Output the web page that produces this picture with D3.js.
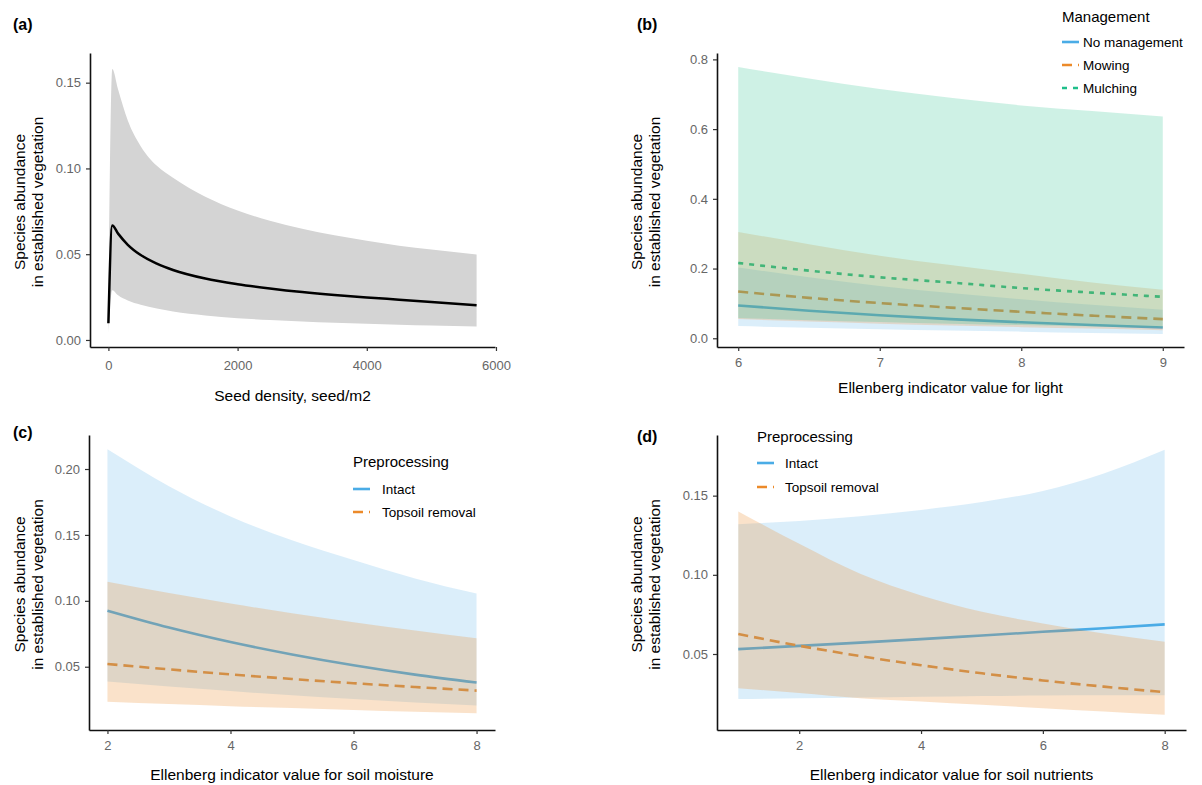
<!DOCTYPE html>
<html>
<head>
<meta charset="utf-8">
<script src="https://cdn.jsdelivr.net/npm/d3@7"></script>
<style>
  body { margin: 0; background: #fff; }
  svg { font-family: "Liberation Sans", Arial, sans-serif; }
  .tick text { fill: #666; font-size: 13px; }
  .tick line { stroke: #333; stroke-width: 1.2; }
  .domain { stroke: #111; stroke-width: 1.6; }
</style>
</head>
<body>
<svg width="1202" height="785"></svg>
<script>

// ---- (a) seed density ----
var seedX    = [0, 60, 150, 300, 500, 750, 1000, 1500, 2000, 2500, 3000, 3500, 4000, 4500, 5000, 5700];
var seedFit  = [0.0097, 0.0668, 0.062, 0.0555, 0.0495, 0.0445, 0.0408, 0.0358, 0.0325, 0.030, 0.0279, 0.0262, 0.0248, 0.0235, 0.0222, 0.0203];
var seedLo   = [0.004, 0.029, 0.026, 0.023, 0.0205, 0.0183, 0.0166, 0.0143, 0.0127, 0.0116, 0.0107, 0.010, 0.0094, 0.0089, 0.0084, 0.0078];
var seedHi   = [0.016, 0.158, 0.146, 0.128, 0.113, 0.1015, 0.0945, 0.0835, 0.0755, 0.0695, 0.0648, 0.061, 0.0578, 0.055, 0.0527, 0.0498];

// ---- (b) light, by management ----
var lightX     = [6, 6.5, 7, 7.5, 8, 8.5, 9];
var noMgmtFit  = [0.094, 0.079, 0.066, 0.055, 0.046, 0.038, 0.031];
var noMgmtLo   = [0.035, 0.030, 0.026, 0.022, 0.019, 0.015, 0.012];
var noMgmtHi   = [0.203, 0.175, 0.150, 0.130, 0.112, 0.096, 0.082];
var mowFit     = [0.134, 0.116, 0.101, 0.088, 0.076, 0.065, 0.055];
var mowLo      = [0.055, 0.048, 0.042, 0.037, 0.032, 0.028, 0.023];
var mowHi      = [0.305, 0.270, 0.237, 0.210, 0.185, 0.160, 0.139];
var mulchFit   = [0.216, 0.194, 0.175, 0.160, 0.144, 0.131, 0.119];
var mulchLo    = [0.058, 0.052, 0.047, 0.042, 0.038, 0.034, 0.030];
var mulchHi    = [0.778, 0.745, 0.715, 0.690, 0.668, 0.652, 0.636];

// ---- (c) soil moisture, by preprocessing ----
var moistX        = [2, 3, 4, 5, 6, 7, 8];
var intactMFit    = [0.0925, 0.0797, 0.0687, 0.0593, 0.0511, 0.044, 0.038];
var intactMLo     = [0.0387, 0.035, 0.0315, 0.0283, 0.0255, 0.0229, 0.0206];
var intactMHi     = [0.215, 0.187, 0.164, 0.146, 0.131, 0.117, 0.1055];
var topsoilMFit   = [0.0521, 0.048, 0.0442, 0.0407, 0.0375, 0.0346, 0.0319];
var topsoilMLo    = [0.0235, 0.0217, 0.0201, 0.0186, 0.0172, 0.0159, 0.0147];
var topsoilMHi    = [0.1145, 0.106, 0.098, 0.0905, 0.0837, 0.0774, 0.0716];

// ---- (d) soil nutrients, by preprocessing ----
var nutrX         = [1, 2, 3, 4, 5, 6, 7, 8];
var intactNFit    = [0.0531, 0.0551, 0.0572, 0.0594, 0.0617, 0.064, 0.0663, 0.0687];
var intactNLo     = [0.0215, 0.022, 0.0225, 0.023, 0.0235, 0.0238, 0.024, 0.024];
var intactNHi     = [0.132, 0.134, 0.137, 0.141, 0.146, 0.153, 0.164, 0.179];
var topsoilNFit   = [0.0626, 0.0552, 0.0487, 0.0429, 0.0378, 0.0333, 0.0294, 0.0259];
var topsoilNLo    = [0.0284, 0.0253, 0.022, 0.020, 0.0179, 0.0158, 0.0137, 0.0116];
var topsoilNHi    = [0.140, 0.1196, 0.1007, 0.087, 0.0766, 0.0693, 0.063, 0.0578];

var mgmtLabels = ["No management", "Mowing", "Mulching"];
var prepLabels = ["Intact", "Topsoil removal"];

var blue = "#4aace6", orange = "#ec8a2a", green = "#1fbf8a";

function pack(xs, fit, lo, hi) {
  return xs.map(function(x, i){ return {x: x, fit: fit[i], lo: lo[i], hi: hi[i]} })
}

var panels = [
  { tag: "(a)", tagX: 13, tagY: 30,
    xDom: [-285, 5985], xRange: [90, 495], yDom: [-0.0041, 0.1673], yRange: [347, 53],
    xTicks: [0, 2000, 4000, 6000], yTicks: [0, 0.05, 0.10, 0.15], yFmt: ".2f", xPad: 10,
    xTitle: "Seed density, seed/m2", xTitleY: 401, yTitleX: 20,
    series: [{data: pack(seedX, seedFit, seedLo, seedHi), color: "#000", fill: "#d4d4d4", op: 1, dash: null, w: 2.5}] },
  { tag: "(b)", tagX: 637, tagY: 30,
    xDom: [5.85, 9.15], xRange: [717, 1184], yDom: [-0.025, 0.8183], yRange: [347, 53],
    xTicks: [6, 7, 8, 9], yTicks: [0, 0.2, 0.4, 0.6, 0.8], yFmt: ".1f", xPad: 7,
    xTitle: "Ellenberg indicator value for light", xTitleY: 393, yTitleX: 637,
    series: [
      {data: pack(lightX, noMgmtFit, noMgmtLo, noMgmtHi), color: blue, fill: blue, op: 0.2, dash: null, w: 2.6},
      {data: pack(lightX, mowFit, mowLo, mowHi), color: orange, fill: orange, op: 0.22, dash: "10,6", w: 2.6},
      {data: pack(lightX, mulchFit, mulchLo, mulchHi), color: green, fill: green, op: 0.22, dash: "5,6", w: 2.6}],
    legend: {title: "Management", labels: mgmtLabels, x: 1062, titleY: 17, ys: [42, 65, 88], gap: 21} },
  { tag: "(c)", tagX: 13, tagY: 438,
    xDom: [1.7, 8.3], xRange: [89, 495], yDom: [0.002, 0.2258], yRange: [730, 435],
    xTicks: [2, 4, 6, 8], yTicks: [0.05, 0.10, 0.15, 0.20], yFmt: ".2f", xPad: 7,
    xTitle: "Ellenberg indicator value for soil moisture", xTitleY: 780, yTitleX: 20,
    series: [
      {data: pack(moistX, intactMFit, intactMLo, intactMHi), color: blue, fill: blue, op: 0.2, dash: null, w: 2.6},
      {data: pack(moistX, topsoilMFit, topsoilMLo, topsoilMHi), color: orange, fill: orange, op: 0.25, dash: "10,6", w: 2.6}],
    legend: {title: "Preprocessing", labels: prepLabels, x: 353, titleY: 462, ys: [489, 512], gap: 29} },
  { tag: "(d)", tagX: 637, tagY: 442,
    xDom: [0.65, 8.35], xRange: [717, 1186], yDom: [0.002, 0.1883], yRange: [730, 435],
    xTicks: [2, 4, 6, 8], yTicks: [0.05, 0.10, 0.15], yFmt: ".2f", xPad: 7,
    xTitle: "Ellenberg indicator value for soil nutrients", xTitleY: 780, yTitleX: 637,
    series: [
      {data: pack(nutrX, intactNFit, intactNLo, intactNHi), color: blue, fill: blue, op: 0.2, dash: null, w: 2.6},
      {data: pack(nutrX, topsoilNFit, topsoilNLo, topsoilNHi), color: orange, fill: orange, op: 0.25, dash: "10,6", w: 2.6}],
    legend: {title: "Preprocessing", labels: prepLabels, x: 757, titleY: 437, ys: [463, 487], gap: 28} }
];

var svg = d3.select("svg");

panels.forEach(function(p) {
  var x = d3.scaleLinear().domain(p.xDom).range(p.xRange);
  var y = d3.scaleLinear().domain(p.yDom).range(p.yRange);
  var g = svg.append("g");

  var line = d3.line().x(function(d){return x(d.x)}).y(function(d){return y(d.fit)}).curve(d3.curveMonotoneX);
  var area = d3.area().x(function(d){return x(d.x)}).y0(function(d){return y(d.lo)}).y1(function(d){return y(d.hi)}).curve(d3.curveMonotoneX);

  // lines first, ribbons over them (tints the lines like the original)
  p.series.forEach(function(s) {
    if (s.op === 1) {
      g.append("path").datum(s.data).attr("d", area).attr("fill", s.fill);
    }
    g.append("path").datum(s.data).attr("d", line)
      .attr("fill", "none").attr("stroke", s.color).attr("stroke-width", s.w)
      .attr("stroke-dasharray", s.dash);
  });
  p.series.forEach(function(s) {
    if (s.op < 1) {
      g.append("path").datum(s.data).attr("d", area).attr("fill", s.fill).attr("fill-opacity", s.op);
    }
  });

  g.append("g").attr("transform", "translate(0," + p.yRange[0] + ")")
    .call(d3.axisBottom(x).tickValues(p.xTicks).tickFormat(d3.format("d")).tickSize(4).tickSizeOuter(0).tickPadding(p.xPad));
  g.append("g").attr("transform", "translate(" + p.xRange[0] + ",0)")
    .call(d3.axisLeft(y).tickValues(p.yTicks).tickFormat(d3.format(p.yFmt)).tickSize(4).tickSizeOuter(0).tickPadding(5));

  g.append("text").text(p.tag).attr("x", p.tagX).attr("y", p.tagY)
    .style("font-weight", "bold").style("font-size", "16px");

  g.append("text").text(p.xTitle)
    .attr("x", (p.xRange[0] + p.xRange[1]) / 2).attr("y", p.xTitleY)
    .attr("text-anchor", "middle").style("font-size", "15.5px");

  var cy = (p.yRange[0] + p.yRange[1]) / 2 + 2;
  ["Species abundance", "in established vegetation"].forEach(function(t, i) {
    g.append("text").text(t)
      .attr("transform", "translate(" + (p.yTitleX + i * 18 + 5) + "," + cy + ") rotate(-90)")
      .attr("text-anchor", "middle").style("font-size", "15.5px");
  });

  if (p.legend) {
    var L = p.legend;
    g.append("text").text(L.title).attr("x", L.x).attr("y", L.titleY).attr("dy", "0.35em")
      .style("font-size", "15px");
    L.labels.forEach(function(lab, i) {
      var s = p.series[i];
      g.append("line").attr("x1", L.x).attr("x2", L.x + 17).attr("y1", L.ys[i]).attr("y2", L.ys[i])
        .attr("stroke", s.color).attr("stroke-width", 2.6).attr("stroke-dasharray", s.dash);
      g.append("text").text(lab).attr("x", L.x + L.gap).attr("y", L.ys[i]).attr("dy", "0.35em")
        .style("font-size", "13.5px");
    });
  }
});

</script>
</body>
</html>
